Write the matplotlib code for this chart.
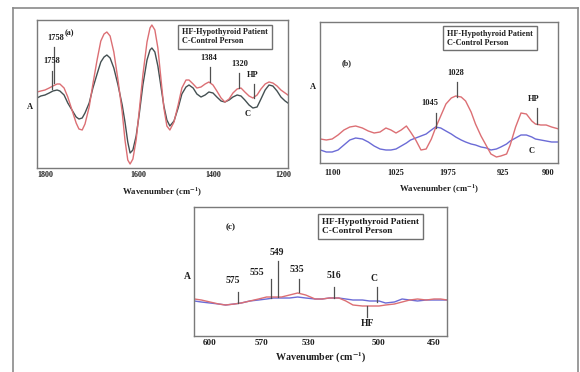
import numpy as np
import matplotlib
matplotlib.use("Agg")
import matplotlib.pyplot as plt
from matplotlib.lines import Line2D

# ---------------------------------------------------------------------------
# DATA  (absorbance in arbitrary units)
# ---------------------------------------------------------------------------

# (a) 1800-1200 cm-1
WN_A = [1817, 1809, 1800, 1791, 1783, 1774, 1768, 1759, 1751, 1742, 1733, 1727,
        1720, 1714, 1705, 1697, 1688, 1680, 1673, 1667, 1660, 1652, 1643, 1634,
        1628, 1622, 1617, 1611, 1604, 1597, 1587, 1576, 1568, 1563, 1555, 1547,
        1539, 1531, 1523, 1515, 1504, 1493, 1483, 1472, 1464, 1453, 1443, 1432,
        1421, 1411, 1400, 1389, 1377, 1366, 1354, 1343, 1331, 1320, 1309, 1297,
        1286, 1274, 1263, 1251, 1240, 1229, 1217, 1206, 1194, 1186]
HF_A = [0.76, 0.77, 0.78, 0.80, 0.82, 0.84, 0.84, 0.80, 0.71, 0.58, 0.45, 0.39,
        0.38, 0.44, 0.61, 0.84, 1.08, 1.27, 1.34, 1.36, 1.32, 1.16, 0.88, 0.56,
        0.28, 0.08, 0.04, 0.09, 0.28, 0.56, 0.93, 1.26, 1.40, 1.43, 1.38, 1.20,
        0.90, 0.60, 0.42, 0.38, 0.46, 0.63, 0.80, 0.88, 0.88, 0.84, 0.80, 0.81,
        0.84, 0.86, 0.83, 0.77, 0.70, 0.66, 0.69, 0.75, 0.79, 0.80, 0.76, 0.72,
        0.70, 0.73, 0.79, 0.84, 0.86, 0.85, 0.82, 0.78, 0.75, 0.73]
C_A = [0.70, 0.72, 0.73, 0.75, 0.77, 0.78, 0.77, 0.73, 0.65, 0.58, 0.51, 0.49,
       0.50, 0.55, 0.65, 0.80, 0.94, 1.06, 1.11, 1.13, 1.10, 1.00, 0.83, 0.63,
       0.46, 0.26, 0.15, 0.18, 0.32, 0.53, 0.83, 1.08, 1.18, 1.20, 1.16, 1.02,
       0.82, 0.62, 0.48, 0.42, 0.47, 0.60, 0.74, 0.81, 0.83, 0.80, 0.74, 0.71,
       0.73, 0.76, 0.75, 0.71, 0.67, 0.66, 0.68, 0.71, 0.73, 0.72, 0.68, 0.63,
       0.60, 0.61, 0.69, 0.78, 0.83, 0.82, 0.77, 0.71, 0.67, 0.65]

# (b) 1100-900 cm-1
WN_B = [1115, 1108, 1101, 1094, 1087, 1080, 1073, 1065, 1058, 1051, 1044, 1037,
        1031, 1025, 1020, 1015, 1011, 1006, 1001, 996, 991, 987, 982, 977,
        972, 968, 963, 959, 954, 950, 945, 940, 936, 931, 927, 923,
        921, 918, 915, 912, 909, 907, 904, 901, 898, 894]
HF_B = [0.24, 0.23, 0.24, 0.28, 0.33, 0.36, 0.37, 0.35, 0.32, 0.30, 0.31, 0.35,
        0.33, 0.30, 0.33, 0.37, 0.31, 0.23, 0.13, 0.14, 0.24, 0.35, 0.47, 0.59,
        0.65, 0.67, 0.66, 0.62, 0.51, 0.39, 0.27, 0.17, 0.09, 0.06, 0.07, 0.09,
        0.18, 0.36, 0.50, 0.49, 0.42, 0.39, 0.38, 0.38, 0.36, 0.34]
C_B = [0.13, 0.11, 0.11, 0.13, 0.18, 0.23, 0.25, 0.24, 0.21, 0.17, 0.14, 0.13,
       0.13, 0.14, 0.17, 0.20, 0.23, 0.25, 0.27, 0.29, 0.33, 0.36, 0.35, 0.32,
       0.29, 0.26, 0.23, 0.21, 0.19, 0.18, 0.16, 0.15, 0.13, 0.14, 0.16, 0.19,
       0.22, 0.25, 0.28, 0.28, 0.26, 0.24, 0.23, 0.22, 0.21, 0.21]

# (c) 600-450 cm-1
WN_C = [609, 605, 600, 595, 591, 586, 582, 577, 572, 566, 560, 553, 546, 539,
        532, 527, 524, 521, 517, 514, 511, 507, 504, 500, 494, 486, 479, 472,
        465, 457, 450, 444, 438]
HF_C = [0.37, 0.36, 0.34, 0.32, 0.31, 0.32, 0.33, 0.35, 0.37, 0.39, 0.39, 0.39,
        0.41, 0.43, 0.41, 0.37, 0.37, 0.38, 0.38, 0.35, 0.31, 0.30, 0.30, 0.30,
        0.31, 0.32, 0.34, 0.36, 0.37, 0.36, 0.37, 0.37, 0.36]
C_C = [0.35, 0.34, 0.33, 0.32, 0.31, 0.32, 0.33, 0.35, 0.36, 0.37, 0.38, 0.38,
       0.38, 0.39, 0.38, 0.37, 0.37, 0.38, 0.38, 0.37, 0.36, 0.36, 0.35, 0.35,
       0.33, 0.34, 0.37, 0.36, 0.35, 0.36, 0.36, 0.36, 0.36]

# tick values / labels (the original prints "1975" for 975)
TICKS_A = [1800, 1600, 1400, 1200]
TICK_LABELS_A = ["1800", "1600", "1400", "1200"]
TICKS_B = [1100, 1025, 975, 925, 900]
TICK_LABELS_B = ["1100", "1025", "1975", "925", "900"]
TICKS_C = [600, 570, 530, 500, 450]
TICK_LABELS_C = ["600", "570", "530", "500", "450"]

# peak annotations: (text, line x, line bottom, line top, text x, text y)
PEAKS_A = [("1758", 1781, 0.85, 1.21, 1778, 1.26),
           ("1758", 1785, 0.79, 0.97, 1786, 1.03),
           ("1384", 1408, 0.86, 1.01, 1411, 1.06),
           ("1320", 1326, 0.80, 0.95, 1323, 1.00),
           ("HP", 1283, 0.70, 0.84, 1286, 0.89),
           ("C", None, None, None, 1300, 0.54)]
PEAKS_B = [("1045", 987, 0.35, 0.50, 993, 0.56),
           ("1028", 967, 0.66, 0.81, 968, 0.86),
           ("HP", 906, 0.39, 0.55, 908, 0.60),
           ("C", None, None, None, 909, 0.12)]
PEAKS_C = [("575", 584, 0.33, 0.44, 587, 0.51),
           ("555", 562, 0.38, 0.57, 573, 0.59),
           ("549", 556, 0.39, 0.75, 557, 0.79),
           ("535", 538, 0.44, 0.57, 540, 0.62),
           ("516", 519, 0.38, 0.49, 519, 0.56),
           ("C", 501, 0.34, 0.49, 502, 0.53),
           ("HF", 505, 0.19, 0.30, 505, 0.13)]

LEGEND_TEXT = "HF-Hypothyroid Patient\nC-Control Person"

# ---------------------------------------------------------------------------
# STYLE / LAYOUT
# ---------------------------------------------------------------------------

W, H = 580, 372
RED = "#dc6f74"
DARK = "#445052"
BLUE = "#6b6bd6"
FRAME = "#8a8a8a"
INK = "#1e1e1e"

plt.rcParams["font.family"] = "Liberation Serif"
plt.rcParams["font.weight"] = "bold"
plt.rcParams["mathtext.fontset"] = "stix"


def px_axes(left, top, right, bottom):
    """Axes rect from reference pixel box."""
    return [left / W, 1 - bottom / H, (right - left) / W, (bottom - top) / H]


def piecewise_scale(vals, pos):
    """Axis scale through the (irregularly spaced) printed tick positions."""
    order = np.argsort(vals)
    v = np.asarray(vals, float)[order]
    p = -np.asarray(pos, float)[order]
    s0 = (p[1] - p[0]) / (v[1] - v[0])
    s1 = (p[-1] - p[-2]) / (v[-1] - v[-2])
    big = 1e5
    v = np.r_[v[0] - big, v, v[-1] + big]
    p = np.r_[p[0] - big * s0, p, p[-1] + big * s1]
    return (lambda x: np.interp(x, v, p)), (lambda t: np.interp(t, p, v))


def panel(fig, box, ticks, labels, tick_px, ytop, tag, tag_xy, peaks,
          series, label_y, legend_xy, tickpad, labelpad, fs, tick_fs):
    left, top, right, bottom = box
    ax = fig.add_axes(px_axes(*box))
    fwd, inv = piecewise_scale(ticks, tick_px)
    ax.set_xscale("function", functions=(fwd, inv))
    for x, y, color in series:
        ax.plot(x, y, color=color, lw=1.0)
    ax.set_xlim(inv(-left), inv(-right))
    ax.set_ylim(0, ytop)
    ax.set_xticks(ticks)
    ax.set_xticklabels(labels, fontsize=tick_fs, fontweight="bold")
    ax.set_yticks([])
    ax.tick_params(axis="x", length=0, pad=tickpad, colors=INK)
    for s in ax.spines.values():
        s.set_color("#7a7a7a")
        s.set_linewidth(1.0)

    ax.set_xlabel(r"Wavenumber (cm$^{\mathbf{-1}}$)", fontsize=fs * 1.05,
                  fontweight="bold", labelpad=labelpad, color=INK)
    ax.set_ylabel("A", rotation=0, fontsize=fs, fontweight="bold",
                  va="center", color=INK)
    ax.yaxis.set_label_coords(-7 / (right - left), label_y)

    ax.text(*tag_xy, tag, fontsize=fs * 0.95, ha="center", va="center", color=INK)
    for text, lx, y0, y1, tx, ty in peaks:
        if lx is not None:
            ax.plot([lx, lx], [y0, y1], color="#505050", lw=0.9)
        below = text == "HF" or (text == "C" and lx is None)
        ax.text(tx, ty, text, fontsize=fs, ha="center",
                va="center" if below else "bottom", color=INK)

    ax.text(*legend_xy, LEGEND_TEXT, transform=ax.transAxes, fontsize=fs * 0.97,
            ha="left", va="top", linespacing=1.15, color=INK,
            bbox=dict(boxstyle="square,pad=0.45", fc="white", ec="#707070", lw=1.0))
    return ax


# ---------------------------------------------------------------------------
# FIGURE
# ---------------------------------------------------------------------------

fig = plt.figure(figsize=(W / 100, H / 100), dpi=100)
fig.patch.set_facecolor("white")

# outer frame of the page (open at the bottom)
for xs, ys in [([13, 578], [8, 8]), ([13, 13], [8, H]), ([578, 578], [8, H])]:
    fig.add_artist(Line2D([x / W for x in xs], [1 - y / H for y in ys],
                          color=FRAME, lw=1.2))

panel(fig, (37, 20, 288, 168), TICKS_A, TICK_LABELS_A, [45, 138, 213, 283],
      1.48, "(a)", (1748, 1.35), PEAKS_A,
      [(WN_A, C_A, DARK), (WN_A, HF_A, RED)],
      0.41, (0.578, 0.945), 2.0, 5.5, 6.0, 5.8)

panel(fig, (320, 22, 558, 163), TICKS_B, TICK_LABELS_B, [333, 396, 448, 503, 548],
      1.41, "(b)", (1084, 1.00), PEAKS_B,
      [(WN_B, C_B, BLUE), (WN_B, HF_B, RED)],
      0.54, (0.534, 0.945), 4.5, 4.0, 6.0, 6.0)

panel(fig, (194, 207, 447, 336), TICKS_C, TICK_LABELS_C, [210, 262, 308, 379, 434],
      1.29, "(c)", (588, 1.09), PEAKS_C,
      [(WN_C, C_C, BLUE), (WN_C, HF_C, RED)],
      0.46, (0.506, 0.915), 2.5, 2.5, 6.9, 6.6)

fig.savefig("out.png", dpi=100)
